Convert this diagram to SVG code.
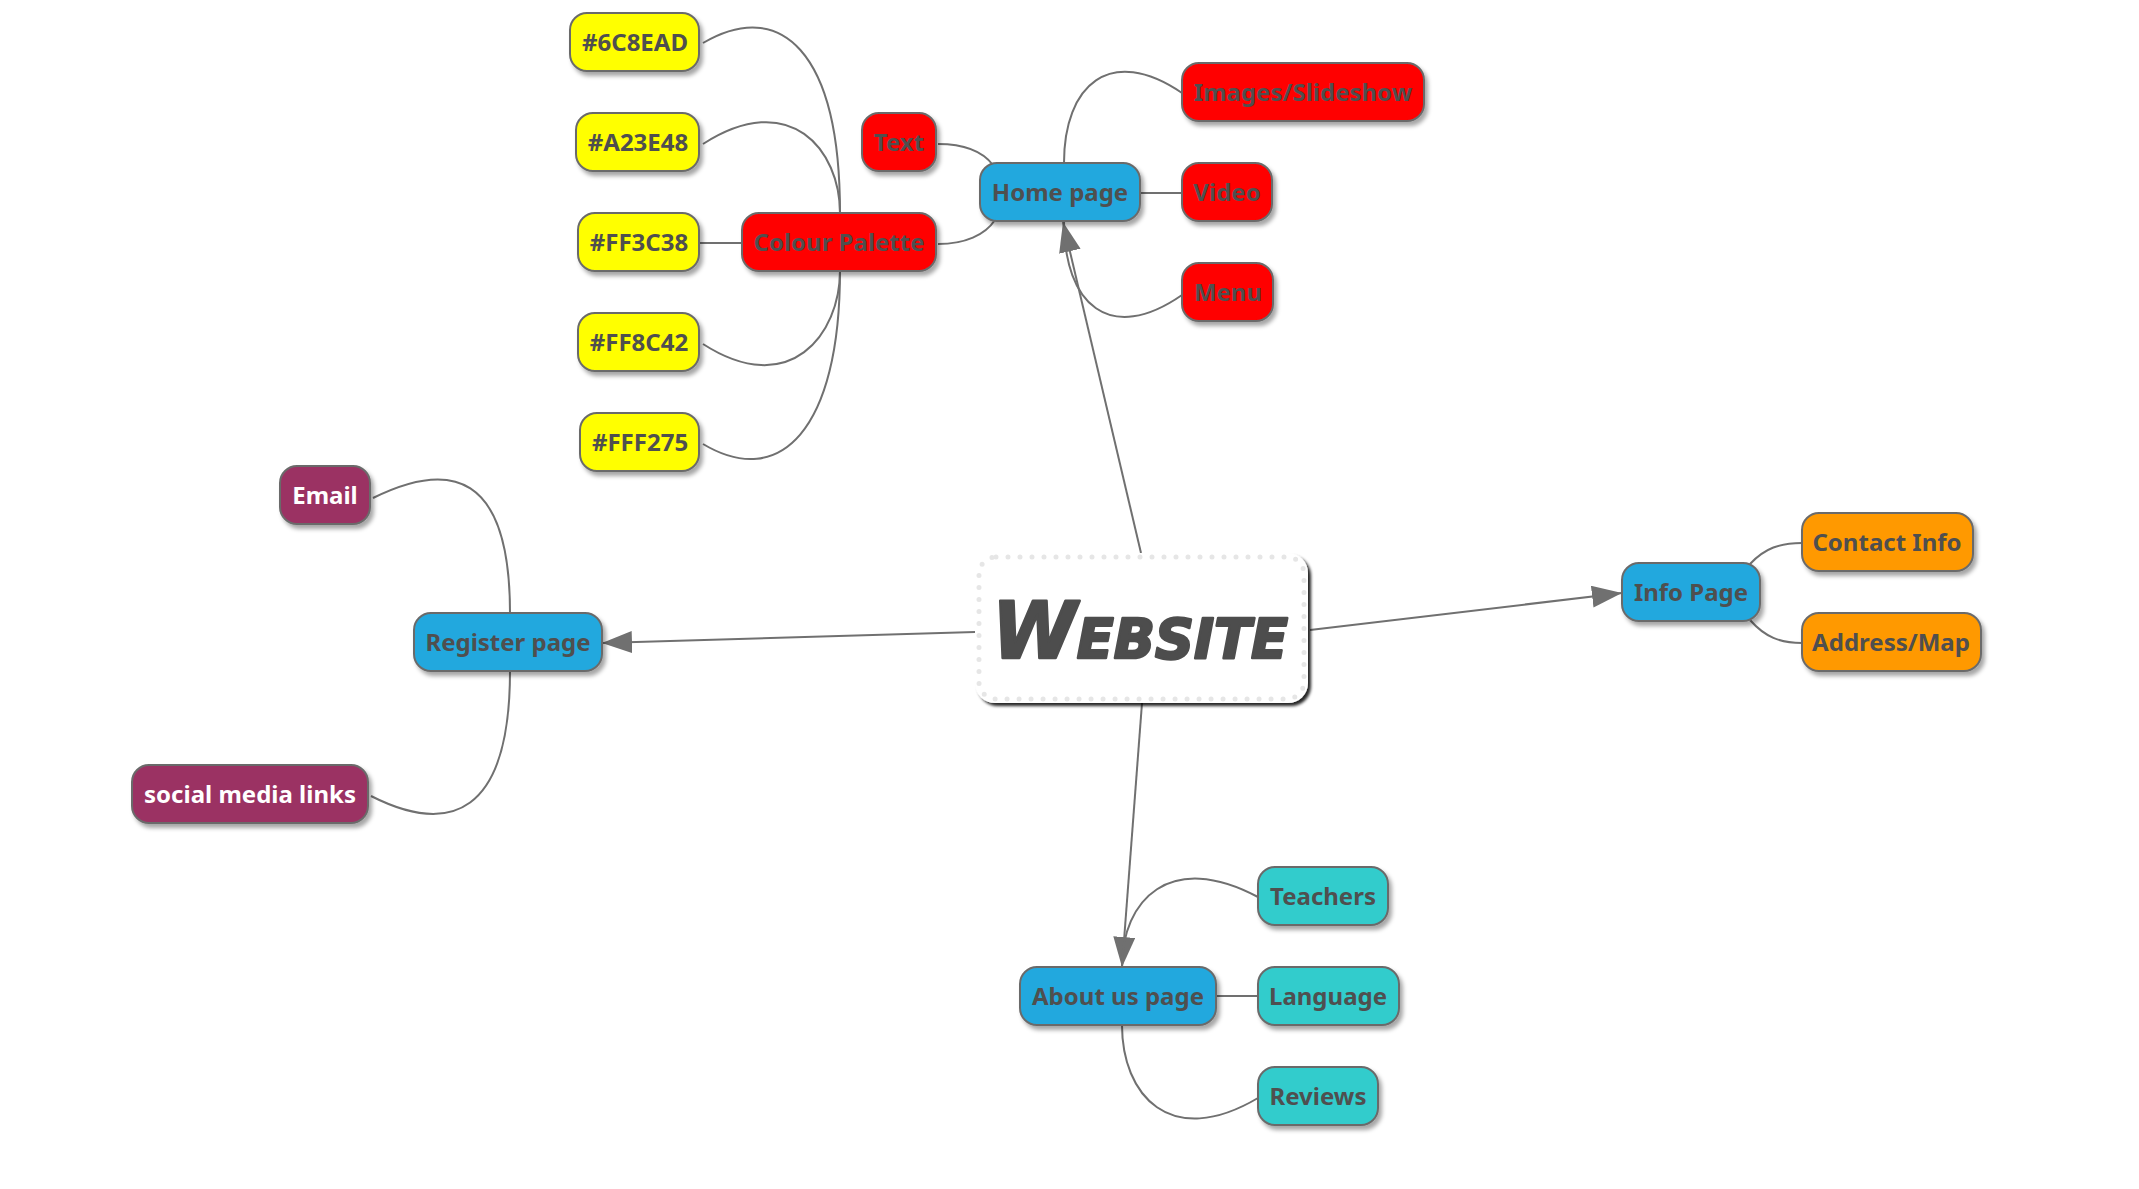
<svg xmlns="http://www.w3.org/2000/svg" width="2139" height="1189" viewBox="0 0 2139 1189">
<defs>
<filter id="sh" x="-20%" y="-30%" width="150%" height="170%">
<feDropShadow dx="3" dy="4" stdDeviation="2" flood-color="#000" flood-opacity="0.35"/>
</filter>
<filter id="shc" x="-10%" y="-20%" width="130%" height="150%">
<feDropShadow dx="3" dy="3" stdDeviation="1.5" flood-color="#000" flood-opacity="0.85"/>
</filter>
<marker id="arr" markerUnits="userSpaceOnUse" markerWidth="32" markerHeight="24" refX="30" refY="11" orient="auto">
<path d="M0,0 L30,11 L0,22 Z" fill="#707070"/>
</marker>
</defs>
<style>
rect.n{stroke:#6b6b6b;stroke-width:2;filter:url(#sh)}
.blue{fill:#22a8de}.red{fill:#ff0000}.yel{fill:#ffff00}.org{fill:#ff9900}.teal{fill:#33cccc}.pur{fill:#9b3363}
text{font-family:"Noto Sans","Open Sans","DejaVu Sans",sans-serif;font-weight:bold;font-size:24px;fill:#4f4f4f;text-anchor:middle}
text.w{fill:#ffffff}
#connectors path{fill:none;stroke:#707070;stroke-width:2}
</style>
<rect width="2139" height="1189" fill="#ffffff"/>
<g id="connectors">
<path d="M1141,553 L1063,222" marker-end="url(#arr)"/>
<path d="M975,632 L602,643" marker-end="url(#arr)"/>
<path d="M1310,630 L1622,593" marker-end="url(#arr)"/>
<path d="M1142,703 L1122,967" marker-end="url(#arr)"/>
<path d="M938,144 C965,144 983,152 993,165"/>
<path d="M938,244 C965,244 985,235 995,220"/>
<path d="M1064,163 C1064,85 1110,44 1182,93"/>
<path d="M1140,193 L1182,193"/>
<path d="M1064,221 C1064,305 1110,345 1182,295"/>
<path d="M840,213 C840,50 780,-2 703,43"/>
<path d="M840,213 C840,150 790,88 703,144"/>
<path d="M742,243 L700,243"/>
<path d="M840,271 C840,334 790,400 703,344"/>
<path d="M840,271 C840,430 780,490 703,444"/>
<path d="M510,613 C510,472 450,460 373,498"/>
<path d="M510,671 C510,815 450,836 371,796"/>
<path d="M1750,564 C1765,548 1780,543 1802,543"/>
<path d="M1750,620 C1765,637 1780,643 1802,643"/>
<path d="M1122,967 C1122,900 1170,850 1258,897"/>
<path d="M1216,996 L1258,996"/>
<path d="M1122,1025 C1122,1095 1170,1150 1258,1098"/>
</g>
<g id="website">
<rect x="975" y="553" width="333" height="150" rx="20" fill="#ffffff" filter="url(#shc)"/>
<rect x="979" y="557" width="325" height="142" rx="17" fill="none" stroke="#e6e6e6" stroke-width="5" stroke-dasharray="0 12" stroke-linecap="round"/>
<text x="1140" y="658" style="font-family:'DejaVu Sans',sans-serif;font-size:78px;font-weight:900;font-style:italic;font-variant:small-caps;fill:#4d4d4d;stroke:#4d4d4d;stroke-width:2.5;stroke-linejoin:round" textLength="296" lengthAdjust="spacingAndGlyphs">Website</text>
</g>
<g id="home"><rect class="n blue" x="980" y="163" width="160" height="58" rx="17"/><text x="1060" y="201">Home page</text></g>
<g id="text"><rect class="n red" x="862" y="113" width="74" height="58" rx="17"/><text x="899" y="151">Text</text></g>
<g id="palette"><rect class="n red" x="742" y="213" width="194" height="58" rx="17"/><text x="839" y="251">Colour Palette</text></g>
<g id="images"><rect class="n red" x="1182" y="63" width="242" height="58" rx="17"/><text x="1303" y="101">Images/Slideshow</text></g>
<g id="video"><rect class="n red" x="1182" y="163" width="90" height="58" rx="17"/><text x="1227" y="201">Video</text></g>
<g id="menu"><rect class="n red" x="1182" y="263" width="91" height="58" rx="17"/><text x="1228" y="301">Menu</text></g>
<g id="c6c8ead"><rect class="n yel" x="570" y="13" width="129" height="58" rx="17"/><text x="635" y="51">#6C8EAD</text></g>
<g id="ca23e48"><rect class="n yel" x="576" y="113" width="123" height="58" rx="17"/><text x="638" y="151">#A23E48</text></g>
<g id="cff3c38"><rect class="n yel" x="578" y="213" width="121" height="58" rx="17"/><text x="639" y="251">#FF3C38</text></g>
<g id="cff8c42"><rect class="n yel" x="578" y="313" width="121" height="58" rx="17"/><text x="639" y="351">#FF8C42</text></g>
<g id="cfff275"><rect class="n yel" x="580" y="413" width="119" height="58" rx="17"/><text x="640" y="451">#FFF275</text></g>
<g id="register"><rect class="n blue" x="414" y="613" width="188" height="58" rx="17"/><text x="508" y="651">Register page</text></g>
<g id="email"><rect class="n pur" x="280" y="466" width="90" height="58" rx="17"/><text class="w" x="325" y="504">Email</text></g>
<g id="social"><rect class="n pur" x="132" y="765" width="236" height="58" rx="17"/><text class="w" x="250" y="803">social media links</text></g>
<g id="info"><rect class="n blue" x="1622" y="563" width="138" height="58" rx="17"/><text x="1691" y="601">Info Page</text></g>
<g id="contact"><rect class="n org" x="1802" y="513" width="171" height="58" rx="17"/><text x="1887" y="551">Contact Info</text></g>
<g id="address"><rect class="n org" x="1802" y="613" width="179" height="58" rx="17"/><text x="1891" y="651">Address/Map</text></g>
<g id="about"><rect class="n blue" x="1020" y="967" width="196" height="58" rx="17"/><text x="1118" y="1005">About us page</text></g>
<g id="teachers"><rect class="n teal" x="1258" y="867" width="130" height="58" rx="17"/><text x="1323" y="905">Teachers</text></g>
<g id="language"><rect class="n teal" x="1258" y="967" width="141" height="58" rx="17"/><text x="1328" y="1005">Language</text></g>
<g id="reviews"><rect class="n teal" x="1258" y="1067" width="120" height="58" rx="17"/><text x="1318" y="1105">Reviews</text></g>
</svg>
